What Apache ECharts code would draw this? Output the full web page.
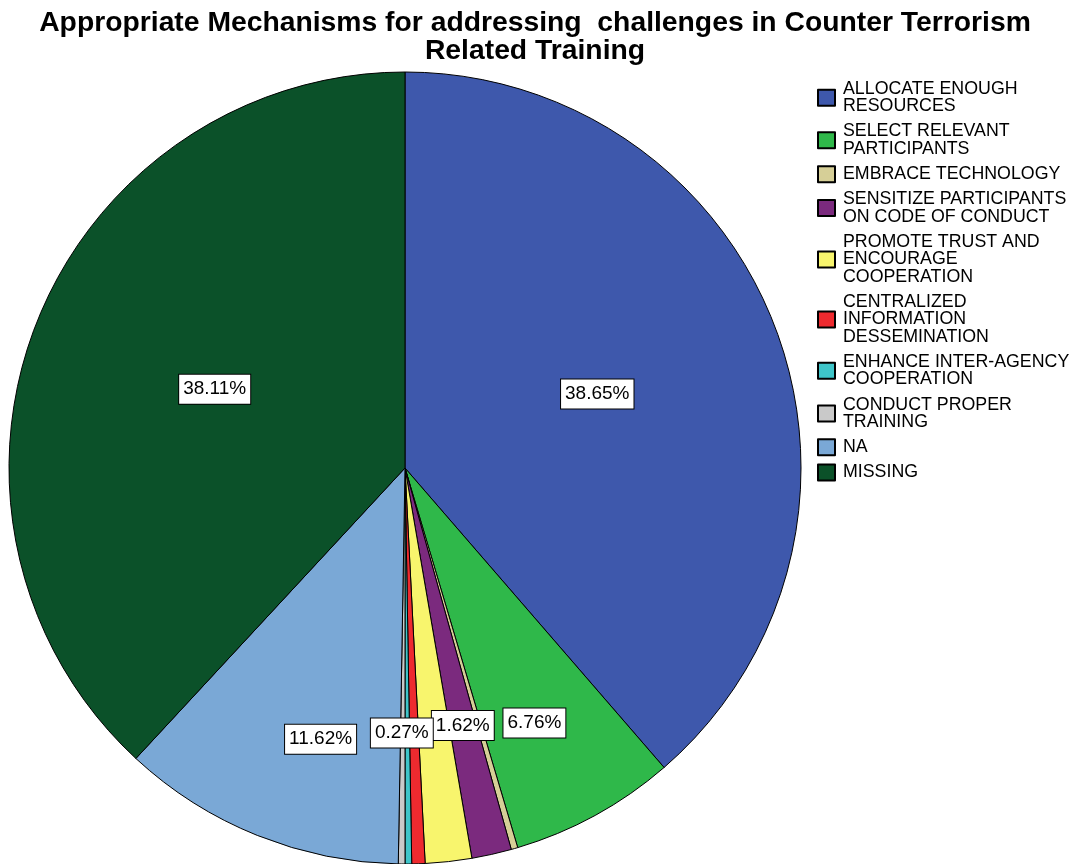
<!DOCTYPE html>
<html>
<head>
<meta charset="utf-8">
<script src="https://cdn.jsdelivr.net/npm/echarts@6/dist/echarts.min.js"></script>
<style>html,body{margin:0;padding:0;background:#fff}#c{width:1070px;height:864px}</style>
</head>
<body>
<div id="c"></div>
<script>
const categories = [
  "ALLOCATE ENOUGH\nRESOURCES",
  "SELECT RELEVANT\nPARTICIPANTS",
  "EMBRACE TECHNOLOGY",
  "SENSITIZE PARTICIPANTS\nON CODE OF CONDUCT",
  "PROMOTE TRUST AND\nENCOURAGE\nCOOPERATION",
  "CENTRALIZED\nINFORMATION\nDESSEMINATION",
  "ENHANCE INTER-AGENCY\nCOOPERATION",
  "CONDUCT PROPER\nTRAINING",
  "NA",
  "MISSING"
];
const counts = [143, 25, 1, 6, 7, 2, 1, 1, 43, 141];
const labeled = [true, true, false, true, false, false, false, true, true, true];
const colors = ["#3e58ac", "#2fb84a", "#d6cf97", "#7b2a7e", "#f8f56d", "#ee2a2f", "#3ec5c9", "#c9c9c9", "#7aa8d6", "#0b5129"];
// label placement (style): distance from centre and angular nudge in degrees
const labelRadius = [206, 286, 0, 264, 0, 0, 0, 265, 284, 206];
const labelAngleShift = [-0.6, 1.8, 0, 0, 0, 0, 0, 0.2, -4.6, 1.1];

const total = counts.reduce((a, b) => a + b, 0);
const CX = 405, CY = 468, R = 396;
const midAngle = [];
{
  let acc = 0;
  counts.forEach(v => { midAngle.push((acc + v / 2) / total * 360); acc += v; });
}

const chart = echarts.init(document.getElementById('c'));
chart.setOption({
  animation: false,
  title: {
    text: "Appropriate Mechanisms for addressing  challenges in Counter Terrorism\nRelated Training",
    left: 'center',
    top: 9,
    padding: 0,
    textStyle: { fontFamily: 'Liberation Sans', fontWeight: 'bold', fontSize: 28.3, lineHeight: 28, color: '#000' }
  },
  legend: {
    orient: 'vertical',
    left: 817,
    top: 80,
    padding: 0,
    itemWidth: 17,
    itemHeight: 16,
    itemGap: 7.1,
    icon: 'rect',
    textStyle: { fontFamily: 'Liberation Sans', fontSize: 17.8, lineHeight: 17.5, color: '#000', padding: [0, 0, 0, 3] },
    data: categories
  },
  series: [{
    type: 'pie',
    center: [CX, CY],
    radius: [0, R],
    startAngle: 90,
    clockwise: true,
    avoidLabelOverlap: false,
    itemStyle: { borderColor: '#000', borderWidth: 1 },
    emphasis: { disabled: true },
    label: {
      show: true,
      position: 'inside',
      fontFamily: 'Liberation Sans',
      fontSize: 19,
      lineHeight: 22,
      color: '#000',
      backgroundColor: '#fff',
      borderColor: '#000',
      borderWidth: 1,
      padding: [4, 4, 3, 4],
      formatter: p => (p.value / total * 100).toFixed(2) + '%'
    },
    labelLine: { show: false },
    labelLayout: function (params) {
      const i = params.dataIndex;
      const th = (midAngle[i] + labelAngleShift[i]) * Math.PI / 180;
      const r = labelRadius[i];
      return { x: CX + r * Math.sin(th), y: CY - r * Math.cos(th), align: 'center', verticalAlign: 'middle' };
    },
    data: categories.map((c, i) => ({
      name: c,
      value: counts[i],
      itemStyle: { color: colors[i] },
      label: { show: labeled[i] }
    }))
  }]
});
</script>
</body>
</html>
